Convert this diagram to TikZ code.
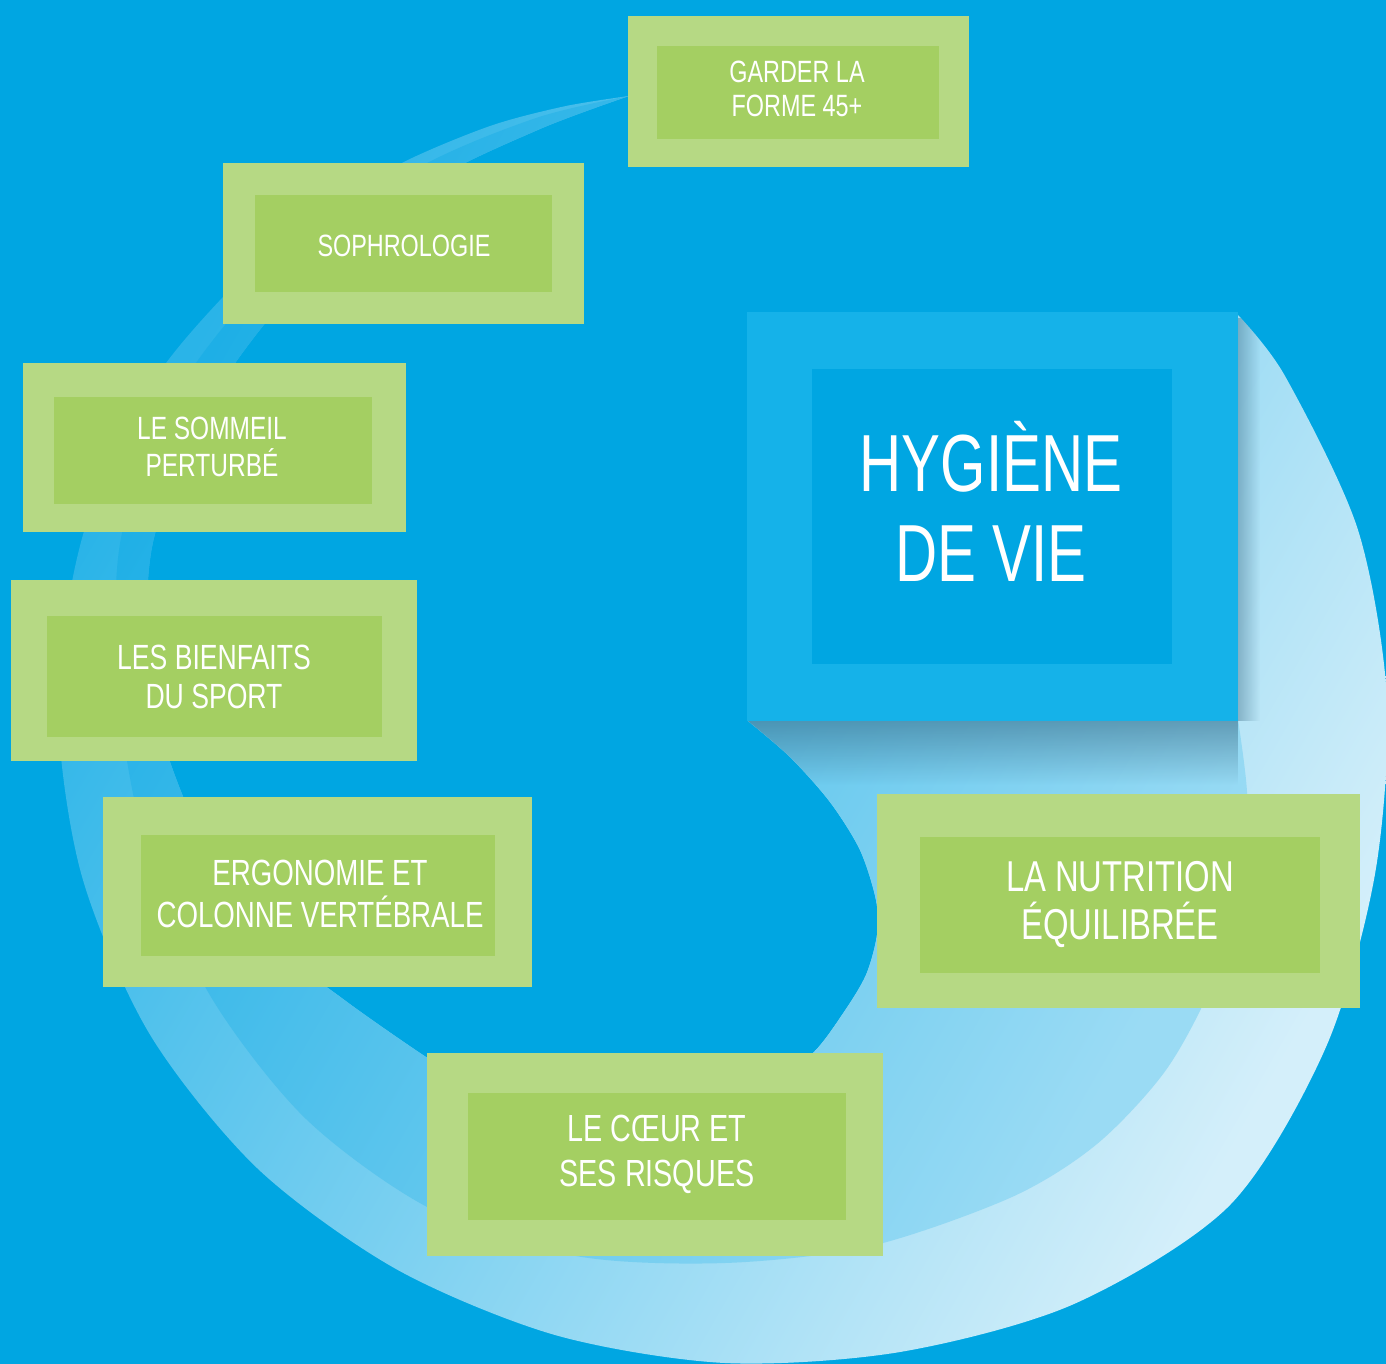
\documentclass[tikz,border=0pt]{standalone}
\usepackage{fontspec}
\newfontfamily\boxfont{Liberation Sans}[FakeStretch=0.76]
\newfontfamily\titlefont{Liberation Sans}[FakeStretch=0.72]
\usetikzlibrary{fadings}

\definecolor{seablue}{HTML}{00A6E2}
\definecolor{paleblue}{HTML}{15B2E9}
\definecolor{leafpale}{HTML}{B6D984}
\definecolor{leaf}{HTML}{A4CF62}
\definecolor{swirlA}{HTML}{2AB4E8}
\definecolor{swirlB}{HTML}{D4EFFA}
\definecolor{swirlC}{HTML}{1EAFE6}
\definecolor{swirlD}{HTML}{9ADBF4}
\definecolor{boxshade}{HTML}{2E5E78}

\tikzfading[name=shadedown, top color=transparent!0, bottom color=transparent!100]
\tikzfading[name=shaderight, left color=transparent!0, right color=transparent!100]

% outer edge of the swirl, then back along its inner edge
\newcommand\swirlpath{plot[smooth] coordinates {(629,96) (566,106) (493,125)
  (412,158) (335,200) (272,247) (159,373) (85,528) (58,700) (81,873)
  (149,1033) (257,1168) (396,1269) (555,1335) (725,1363) (900,1352)
  (1074,1304) (1230,1205) (1326,1047) (1375,874) (1387,700) (1358,530)
  (1285,376) (1237,314)}
  -- (1150,420) -- (800,690) --
  plot[smooth] coordinates {(748,721) (790,757) (830,802) (860,850) (876,900)
  (877,935) (866,975) (844,1012) (814,1052) (770,1085) (700,1110) (620,1118)
  (540,1105) (470,1082) (426,1057) (343,999) (288,953) (203,840) (153,700)
  (152,547) (210,402) (304,279) (427,184) (540,129) (629,96)} -- cycle}

\begin{document}
\begin{tikzpicture}[x=0.5pt, y=-0.5pt,
  frame/.style={fill=leafpale},
  pad/.style={fill=leaf},
  lbl/.style 2 args={text=white, align=center, inner sep=0pt,
    font=\boxfont\fontsize{#1}{#2}\selectfont}]
\useasboundingbox (0,0) rectangle (1386,1364);
\fill[seablue] (0,0) rectangle (1386,1364);

% swirl
\shade[top color=swirlA, bottom color=swirlB, shading angle=60] \swirlpath;
\shade[top color=swirlC, bottom color=swirlD, shading angle=60]
  plot[smooth] coordinates {(629,96) (536,118) (418,168) (285,260) (181,386)
  (121,538) (119,700) (148,855) (211,997) (306,1119) (431,1209) (576,1256)
  (725,1263) (871,1246) (1012,1197) (1097,1144) (1166,1070) (1213,982)
  (1240,887) (1247,792) (1228,656)}
  -- (1100,600) -- (800,690) --
  plot[smooth] coordinates {(748,721) (790,757) (830,802) (860,850) (876,900)
  (877,935) (866,975) (844,1012) (814,1052) (770,1085) (700,1110) (620,1118)
  (540,1105) (470,1082) (426,1057) (343,999) (288,953) (203,840) (153,700)
  (152,547) (210,402) (304,279) (427,184) (540,129) (629,96)} -- cycle;

% shadow of the big box
\begin{scope}
  \clip \swirlpath;
  \fill[boxshade, fill opacity=0.6, path fading=shadedown] (747,705) rectangle (1238,785);
  \fill[boxshade, fill opacity=0.5, path fading=shaderight] (1230,318) rectangle (1260,721);
\end{scope}

\fill[paleblue] (747,312) rectangle (1238,721);
\fill[seablue] (812,369) rectangle (1172,664);
\node[text=white, align=center, inner sep=0pt,
  font=\titlefont\fontsize{40.5}{45}\selectfont] at (991,501) (hygiene) {HYGIÈNE\\DE VIE};

\fill[frame] (628,16) rectangle (969,167);
\fill[pad] (657,46) rectangle (939,139);
\node[lbl={15.4}{17}] at (797,89) (garder) {GARDER LA\\FORME 45+};

\fill[frame] (223,163) rectangle (584,324);
\fill[pad] (255,195) rectangle (552,292);
\node[lbl={15.4}{17}] at (404,246) (sophro) {SOPHROLOGIE};

\fill[frame] (23,363) rectangle (406,532);
\fill[pad] (54,397) rectangle (372,504);
\node[lbl={16.1}{18.5}] at (212,447) (sommeil) {LE SOMMEIL\\PERTURBÉ};

\fill[frame] (11,580) rectangle (417,761);
\fill[pad] (47,616) rectangle (382,737);
\node[lbl={17.5}{19.5}] at (214,677) (sport) {LES BIENFAITS\\DU SPORT};

\fill[frame] (103,797) rectangle (532,987);
\fill[pad] (141,835) rectangle (495,956);
\node[lbl={18.2}{21}] at (320,894) (ergo) {ERGONOMIE ET\\COLONNE VERTÉBRALE};

\fill[frame] (427,1053) rectangle (883,1256);
\fill[pad] (468,1093) rectangle (846,1220);
\node[lbl={18.9}{22.5}] at (657,1154) (coeur) {LE CŒUR ET\\SES RISQUES};

\fill[frame] (877,794) rectangle (1360,1008);
\fill[pad] (920,837) rectangle (1320,973);
\node[lbl={21.6}{24}] at (1120,904) (nutrition) {LA NUTRITION\\ÉQUILIBRÉE};

\end{tikzpicture}
\end{document}
